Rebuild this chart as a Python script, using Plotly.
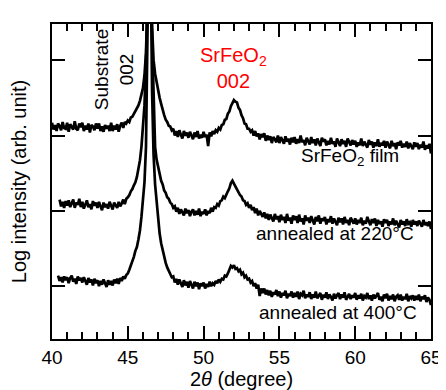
import plotly.graph_objects as go

# 2theta grid (degree), 0.1 step from 40.0 to 65.0
two_theta = [round(40.0 + 0.1 * i, 1) for i in range(251)]

# SrFeO2 film (log intensity, arb. unit, offset)
film = [
    2.17, 2.08, 2.14, 2.06, 2.16, 2.13, 2.07, 2.18, 2.10, 2.09,
    2.17, 2.05, 2.15, 2.12, 2.08, 2.19, 2.09, 2.07, 2.16, 2.11,
    2.17, 2.06, 2.13, 2.08, 2.16, 2.04, 2.14, 2.12, 2.07, 2.16,
    2.09, 2.16, 2.06, 2.12, 2.05, 2.14, 2.09, 2.13, 2.06, 2.17,
    2.06, 2.13, 2.08, 2.15, 2.05, 2.13, 2.17, 2.10, 2.18, 2.16,
    2.20, 2.18, 2.24, 2.25, 2.29, 2.31, 2.36, 2.40, 2.46, 2.53,
    2.63, 2.80, 3.10, 3.80, 4.60, 4.30, 3.45, 3.00, 2.82, 2.70,
    2.60, 2.50, 2.42, 2.33, 2.27, 2.21, 2.18, 2.13, 2.12, 2.07,
    2.09, 2.00, 2.06, 1.98, 2.07, 2.01, 1.96, 2.06, 2.00, 2.04,
    1.97, 2.05, 1.99, 1.95, 2.04, 1.98, 2.06, 1.96, 2.01, 1.97,
    2.05, 1.98, 2.01, 1.86, 2.04, 1.99, 2.06, 2.02, 2.07, 2.05,
    2.10, 2.08, 2.14, 2.15, 2.21, 2.22, 2.29, 2.32, 2.39, 2.43,
    2.47, 2.45, 2.44, 2.37, 2.34, 2.27, 2.23, 2.16, 2.15, 2.09,
    2.09, 2.05, 2.07, 2.00, 2.06, 1.99, 2.03, 1.95, 2.02, 1.98,
    2.03, 1.93, 2.00, 1.94, 1.99, 1.90, 1.98, 1.95, 1.91, 2.00,
    1.90, 1.98, 1.93, 1.89, 1.99, 1.92, 1.96, 1.88, 1.97, 1.91,
    1.98, 1.89, 1.95, 1.90, 2.00, 1.91, 1.94, 1.87, 1.97, 1.92,
    1.88, 1.98, 1.90, 1.95, 1.87, 1.96, 1.91, 1.86, 1.97, 1.92,
    1.95, 1.87, 1.93, 1.88, 1.97, 1.89, 1.92, 1.85, 1.96, 1.90,
    1.86, 1.95, 1.89, 1.93, 1.85, 1.96, 1.90, 1.87, 1.94, 1.88,
    1.93, 1.85, 1.91, 1.87, 1.96, 1.86, 1.92, 1.88, 1.84, 1.94,
    1.88, 1.92, 1.84, 1.91, 1.86, 1.95, 1.85, 1.90, 1.87, 1.93,
    1.84, 1.92, 1.87, 1.83, 1.93, 1.86, 1.90, 1.82, 1.91, 1.87,
    1.93, 1.84, 1.89, 1.85, 1.92, 1.83, 1.90, 1.86, 1.82, 1.91,
    1.85, 1.90, 1.82, 1.88, 1.84, 1.92, 1.81, 1.87, 1.83, 1.89,
    1.76,
]

# annealed at 220 C
annealed_220 = [
    None, None, None, None, None, 1.15, 1.06, 1.12, 1.04, 1.13,
    1.07, 1.14, 1.05, 1.10, 1.15, 1.04, 1.11, 1.08, 1.16, 1.05,
    1.12, 1.03, 1.10, 1.14, 1.05, 1.09, 1.02, 1.13, 1.07, 1.11,
    1.04, 1.12, 1.06, 1.01, 1.11, 1.05, 1.09, 1.03, 1.12, 1.06,
    1.02, 1.11, 1.07, 1.04, 1.12, 1.06, 1.10, 1.15, 1.09, 1.16,
    1.18, 1.21, 1.26, 1.29, 1.34, 1.38, 1.45, 1.54, 1.67, 1.85,
    2.08, 2.40, 2.95, 3.90, 4.80, 4.40, 3.30, 2.35, 1.85, 1.68,
    1.57, 1.48, 1.40, 1.35, 1.27, 1.24, 1.18, 1.16, 1.11, 1.09,
    1.04, 1.06, 0.99, 1.04, 0.96, 1.02, 0.98, 0.94, 1.03, 0.97,
    1.01, 0.93, 0.99, 1.02, 0.94, 1.00, 0.95, 1.03, 0.93, 0.99,
    0.96, 1.02, 0.94, 1.00, 0.97, 1.04, 0.99, 1.05, 1.04, 1.09,
    1.07, 1.13, 1.14, 1.19, 1.17, 1.23, 1.26, 1.30, 1.37, 1.40,
    1.36, 1.33, 1.28, 1.26, 1.21, 1.19, 1.14, 1.13, 1.08, 1.10,
    1.04, 1.08, 1.01, 1.05, 0.97, 1.03, 0.94, 1.00, 0.96, 0.92,
    0.98, 0.90, 0.96, 0.88, 0.95, 0.91, 0.86, 0.96, 0.89, 0.93,
    0.85, 0.95, 0.88, 0.92, 0.84, 0.96, 0.87, 0.91, 0.83, 0.94,
    0.88, 0.93, 0.84, 0.95, 0.86, 0.90, 0.82, 0.94, 0.87, 0.91,
    0.84, 0.93, 0.87, 0.82, 0.92, 0.86, 0.94, 0.83, 0.90, 0.87,
    0.92, 0.82, 0.89, 0.85, 0.93, 0.83, 0.90, 0.86, 0.81, 0.91,
    0.85, 0.90, 0.82, 0.92, 0.84, 0.88, 0.81, 0.91, 0.86, 0.83,
    0.90, 0.82, 0.88, 0.84, 0.91, 0.81, 0.87, 0.83, 0.92, 0.85,
    0.81, 0.89, 0.84, 0.90, 0.80, 0.88, 0.83, 0.86, 0.79, 0.89,
    0.84, 0.88, 0.80, 0.86, 0.82, 0.90, 0.81, 0.87, 0.83, 0.78,
    0.88, 0.82, 0.86, 0.80, 0.89, 0.83, 0.85, 0.79, 0.88, 0.82,
    0.86, 0.80, 0.87, 0.83, 0.79, 0.88, 0.81, 0.85, 0.80, 0.86,
    0.76,
]

# annealed at 400 C
annealed_400 = [
    None, None, None, None, 0.14, 0.07, 0.12, 0.05, 0.13, 0.08,
    0.12, 0.04, 0.11, 0.14, 0.06, 0.10, 0.03, 0.13, 0.08, 0.11,
    0.05, 0.12, 0.07, 0.02, 0.11, 0.05, 0.09, 0.01, 0.10, 0.04,
    0.08, 0.00, 0.07, 0.02, 0.09, 0.04, -0.01, 0.08, 0.02, 0.07,
    0.01, 0.09, 0.04, 0.10, 0.03, 0.11, 0.07, 0.13, 0.10, 0.15,
    0.17, 0.22, 0.27, 0.32, 0.39, 0.47, 0.52, 0.62, 0.74, 0.92,
    1.12, 1.38, 1.85, 2.90, 4.90, 4.50, 2.60, 1.75, 1.35, 1.12,
    0.88, 0.70, 0.57, 0.47, 0.38, 0.31, 0.25, 0.20, 0.17, 0.12,
    0.13, 0.05, 0.10, 0.02, 0.09, 0.04, -0.01, 0.08, 0.01, 0.06,
    -0.02, 0.07, 0.01, -0.03, 0.06, 0.00, 0.05, -0.04, 0.04, 0.00,
    0.05, -0.03, 0.03, -0.01, 0.06, 0.00, 0.04, 0.02, 0.07, 0.04,
    0.09, 0.06, 0.10, 0.09, 0.14, 0.13, 0.17, 0.21, 0.27, 0.25,
    0.28, 0.23, 0.24, 0.20, 0.22, 0.16, 0.18, 0.12, 0.14, 0.09,
    0.10, 0.05, 0.07, 0.00, 0.04, -0.03, 0.02, -0.13, -0.03, -0.09,
    -0.03, -0.11, -0.05, -0.12, -0.06, -0.14, -0.08, -0.11, -0.05, -0.13,
    -0.07, -0.15, -0.09, -0.12, -0.06, -0.16, -0.10, -0.13, -0.07, -0.15,
    -0.09, -0.14, -0.07, -0.17, -0.10, -0.12, -0.06, -0.16, -0.11, -0.14,
    -0.08, -0.17, -0.11, -0.15, -0.07, -0.16, -0.12, -0.09, -0.18, -0.11,
    -0.15, -0.08, -0.17, -0.11, -0.14, -0.19, -0.10, -0.16, -0.12, -0.09,
    -0.17, -0.11, -0.15, -0.08, -0.18, -0.13, -0.10, -0.17, -0.12, -0.15,
    -0.09, -0.18, -0.12, -0.16, -0.10, -0.19, -0.13, -0.15, -0.09, -0.17,
    -0.12, -0.19, -0.11, -0.16, -0.13, -0.09, -0.18, -0.14, -0.20, -0.11,
    -0.16, -0.10, -0.19, -0.13, -0.17, -0.11, -0.20, -0.14, -0.12, -0.18,
    -0.11, -0.19, -0.14, -0.17, -0.10, -0.20, -0.13, -0.16, -0.12, -0.19,
    -0.13, -0.18, -0.11, -0.20, -0.14, -0.17, -0.12, -0.21, -0.15, -0.18,
    -0.25,
]

x_ticks = [40, 45, 50, 55, 60, 65]
y_ticks = [0, 1, 2, 3]

FONT = "Liberation Sans, Arial, Helvetica, sans-serif"

fig = go.Figure()
for series in (film, annealed_220, annealed_400):
    fig.add_trace(go.Scatter(
        x=two_theta, y=series, mode="lines",
        line=dict(color="black", width=2.7),
        connectgaps=False, showlegend=False, hoverinfo="skip",
    ))

annos = [
    dict(x=44.1, y=2.87, text="Substrate<br>002", textangle=-90,
         font=dict(size=19, color="black")),
    dict(x=52.0, y=2.89, text="SrFeO<sub>2</sub><br>002",
         font=dict(size=20, color="#ff0000")),
    dict(x=63.0, y=1.72, text="SrFeO<sub>2</sub> film", xanchor="right",
         font=dict(size=19, color="black")),
    dict(x=64.02, y=0.70, text="annealed at 220°C", xanchor="right",
         font=dict(size=19, color="black")),
    dict(x=64.21, y=-0.35, text="annealed at 400°C", xanchor="right",
         font=dict(size=19, color="black")),
]
for a in annos:
    a.update(xref="x", yref="y", showarrow=False)
    fig.add_annotation(**a)

fig.update_layout(
    width=446, height=390,
    margin=dict(l=44, r=13, t=16, b=57),
    paper_bgcolor="white", plot_bgcolor="white",
    font=dict(family=FONT, size=19, color="black"),
)
fig.update_xaxes(
    range=[40, 65], tickvals=x_ticks, ticktext=[str(v) for v in x_ticks],
    ticks="inside", ticklen=13, tickwidth=1.5, tickcolor="black",
    minor=dict(dtick=1, ticks="inside", ticklen=7, tickwidth=1.5, tickcolor="black"),
    showline=True, linecolor="black", linewidth=2, mirror="ticks",
    showgrid=False, zeroline=False,
    tickfont=dict(size=19),
    title=dict(text="2<i>θ</i> (degree)", font=dict(size=20), standoff=4),
)
fig.update_yaxes(
    range=[-0.7, 3.48], tickvals=y_ticks, showticklabels=False,
    ticks="inside", ticklen=13, tickwidth=1.5, tickcolor="black",
    showline=True, linecolor="black", linewidth=2, mirror="ticks",
    showgrid=False, zeroline=False,
    title=dict(text="Log intensity (arb. unit)", font=dict(size=20), standoff=18),
)

fig.write_html("out.html")
